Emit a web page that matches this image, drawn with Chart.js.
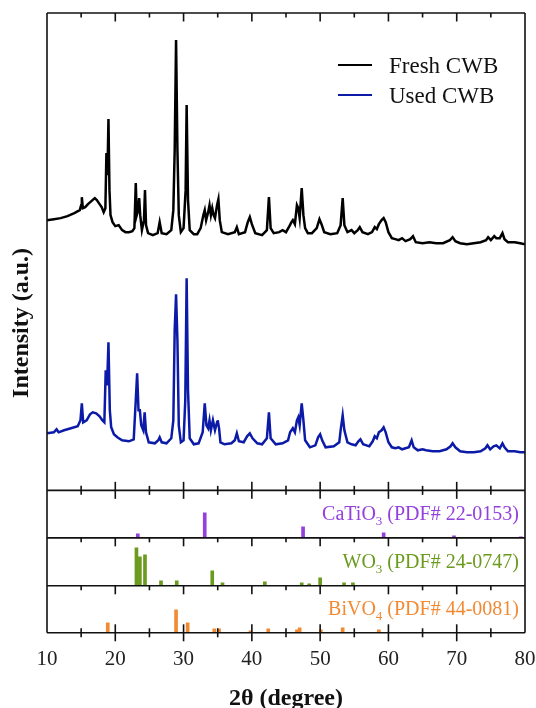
<!DOCTYPE html>
<html>
<head>
<meta charset="utf-8">
<script src="https://cdn.jsdelivr.net/npm/chart.js@4.4.1/dist/chart.umd.min.js"></script>
<style>
  html, body { margin: 0; padding: 0; background: #fff; }
  #wrap { width: 536px; height: 708px; }
</style>
</head>
<body>
<div id="wrap"><canvas id="xrdChart" width="536" height="708"></canvas></div>
<script>
// [2theta, intensity (a.u.)]
const freshPattern = [
  [10.0, 270], [11.0, 271], [12.0, 272], [13.0, 274], [14.0, 277], [14.8, 280], [15.0, 285], [15.1, 293],
  [15.25, 282], [15.6, 283], [16.0, 286], [16.5, 289], [17.0, 292], [17.3, 290], [17.6, 287], [18.0, 283],
  [18.3, 278], [18.55, 282], [18.7, 337], [18.85, 315], [19.0, 371], [19.15, 300], [19.3, 275], [19.6, 268],
  [20.0, 264], [20.5, 265], [21.0, 260], [21.5, 258], [22.0, 258], [22.5, 259], [22.8, 262], [23.0, 307],
  [23.15, 275], [23.35, 280], [23.5, 292], [23.65, 275], [23.9, 260], [24.2, 270], [24.35, 300], [24.5, 265],
  [24.8, 257], [25.5, 255], [26.2, 257], [26.5, 268], [26.8, 257], [27.5, 256], [28.2, 260], [28.5, 280],
  [28.7, 340], [28.9, 450], [29.1, 340], [29.3, 275], [29.6, 258], [30.0, 262], [30.3, 300], [30.45, 385],
  [30.65, 290], [30.9, 260], [31.5, 256], [32.0, 256], [32.5, 262], [32.9, 275], [33.1, 280], [33.3, 270],
  [33.6, 278], [33.8, 285], [34.0, 275], [34.2, 282], [34.4, 275], [34.6, 272], [34.9, 285], [35.1, 291],
  [35.3, 270], [35.6, 258], [36.5, 256], [37.5, 258], [37.8, 263], [38.1, 256], [39.0, 258], [39.4, 268],
  [39.7, 273], [40.0, 266], [40.5, 257], [41.5, 255], [42.2, 260], [42.5, 293], [42.75, 262], [43.2, 257],
  [44.0, 258], [44.5, 260], [45.0, 258], [45.5, 264], [45.8, 268], [46.0, 270], [46.3, 266], [46.6, 285],
  [46.8, 282], [47.0, 272], [47.3, 302], [47.55, 275], [47.8, 262], [48.2, 257], [48.8, 257], [49.5, 262],
  [49.9, 271], [50.2, 266], [50.6, 258], [51.5, 256], [52.5, 257], [53.0, 265], [53.3, 292], [53.55, 265],
  [54.0, 258], [54.6, 260], [55.0, 257], [55.5, 260], [55.8, 263], [56.2, 258], [57.0, 256], [57.6, 258],
  [58.0, 263], [58.3, 261], [58.6, 266], [59.0, 270], [59.3, 272], [59.6, 268], [60.0, 258], [60.5, 252],
  [61.0, 251], [61.5, 250], [62.0, 252], [62.5, 249], [63.2, 251], [63.6, 254], [64.0, 248], [65.0, 247],
  [66.0, 248], [67.0, 247], [68.0, 247], [69.0, 250], [69.4, 253], [69.8, 249], [70.5, 247], [71.5, 246],
  [72.5, 247], [73.5, 248], [74.3, 250], [74.6, 253], [75.0, 250], [75.5, 254], [75.8, 252], [76.3, 252],
  [76.7, 257], [77.0, 251], [77.5, 248], [78.5, 248], [79.3, 247], [80.0, 246]
];

const usedPattern = [
  [10.0, 57], [11.0, 58], [11.4, 61], [11.7, 58], [12.5, 60], [13.5, 62], [14.5, 64], [14.9, 70],
  [15.1, 87], [15.3, 68], [15.8, 70], [16.3, 76], [16.7, 78], [17.2, 77], [17.7, 74], [18.1, 70],
  [18.4, 68], [18.6, 120], [18.8, 105], [19.0, 148], [19.2, 80], [19.4, 63], [19.8, 56], [20.3, 53],
  [21.0, 50], [22.0, 49], [22.7, 51], [23.0, 90], [23.2, 117], [23.4, 80], [23.6, 80], [23.8, 65],
  [24.1, 60], [24.3, 78], [24.5, 58], [24.9, 48], [25.8, 47], [26.3, 50], [26.5, 53], [26.8, 48],
  [27.5, 47], [28.2, 52], [28.5, 70], [28.7, 160], [28.9, 196], [29.1, 150], [29.3, 65], [29.6, 48],
  [30.0, 50], [30.25, 90], [30.45, 212], [30.65, 100], [30.9, 52], [31.5, 46], [32.2, 47], [32.8, 58],
  [33.1, 87], [33.35, 65], [33.6, 62], [33.8, 70], [34.0, 60], [34.3, 70], [34.6, 60], [34.9, 68],
  [35.0, 70], [35.2, 62], [35.4, 48], [36.0, 46], [37.0, 47], [37.5, 50], [37.8, 57], [38.1, 49],
  [38.8, 48], [39.3, 54], [39.7, 57], [40.1, 52], [40.8, 47], [41.5, 46], [42.2, 52], [42.5, 78],
  [42.75, 52], [43.5, 46], [44.5, 47], [45.3, 50], [45.6, 58], [46.0, 62], [46.3, 58], [46.6, 70],
  [46.8, 73], [47.0, 65], [47.3, 87], [47.55, 70], [47.8, 50], [48.5, 43], [49.3, 45], [49.7, 53],
  [50.0, 56], [50.3, 50], [50.8, 43], [52.0, 44], [52.8, 48], [53.0, 60], [53.3, 75], [53.55, 60],
  [54.0, 48], [54.6, 46], [55.2, 45], [55.6, 49], [55.9, 51], [56.3, 46], [57.2, 44], [57.7, 49],
  [58.0, 54], [58.3, 52], [58.6, 58], [59.0, 60], [59.3, 63], [59.6, 58], [60.0, 48], [60.5, 43],
  [61.0, 42], [61.5, 43], [62.0, 41], [62.5, 42], [63.0, 43], [63.4, 50], [63.7, 43], [64.3, 40],
  [65.0, 41], [65.5, 40], [66.5, 39], [67.5, 39], [68.5, 41], [69.1, 44], [69.4, 47], [69.8, 43],
  [70.5, 39], [71.5, 38], [72.5, 38], [73.5, 39], [74.2, 42], [74.5, 45], [74.9, 41], [75.4, 44],
  [75.8, 45], [76.3, 42], [76.7, 47], [77.0, 43], [77.5, 39], [78.5, 39], [79.3, 38], [80.0, 38]
];

// standard reference cards: [2theta, relative intensity]
const caTiO3Lines = [[23.3, 4], [33.1, 25], [47.5, 11], [59.3, 5], [69.6, 2], [79.4, 1]];
const wo3Lines = [[23.1, 38], [23.6, 29], [24.35, 31], [26.7, 5], [29.0, 5], [34.2, 15], [35.7, 3],
  [41.9, 4], [47.3, 3], [48.4, 2], [50.0, 8], [53.5, 3], [54.8, 3]];
const biVO4Lines = [[18.9, 10], [28.9, 23], [30.6, 10], [34.5, 4], [35.2, 4], [39.8, 2], [42.4, 4],
  [46.6, 3], [47.0, 5], [50.1, 3], [53.3, 5], [58.6, 3]];

const seriesNames = ['Fresh CWB', 'Used CWB'];
const cardLabels = [
  ['CaTiO', '3', ' (PDF# 22-0153)'],
  ['WO', '3', ' (PDF# 24-0747)'],
  ['BiVO', '4', ' (PDF# 44-0081)']
];
const xTicks = [10, 20, 30, 40, 50, 60, 70, 80];

const SERIF = '"Liberation Serif", "Times New Roman", serif';
const cardColors = ['#9440dd', '#6b9b1e', '#f28a34'];

function toPoints(pairs) {
  return pairs.map(p => ({ x: p[0], y: p[1] }));
}

function panelAxis(max, weight) {
  return {
    type: 'linear',
    position: 'left',
    stack: 'xrd',
    stackWeight: weight,
    min: 0,
    max: max,
    grid: { display: false, drawTicks: false },
    border: { display: false },
    ticks: { display: false },
    afterFit: s => { s.width = 0; }
  };
}

function lineSet(label, pairs, color) {
  return {
    type: 'line', label: label, data: toPoints(pairs), yAxisID: 'yMain',
    borderColor: color, borderWidth: 2.5, pointRadius: 0, tension: 0, fill: false
  };
}

function barSet(label, pairs, color, axis) {
  return {
    type: 'bar', label: label, data: toPoints(pairs), yAxisID: axis,
    backgroundColor: color, barThickness: 3, grouped: false
  };
}

function drawLine(ctx, x1, y1, x2, y2) {
  ctx.beginPath();
  ctx.moveTo(x1, y1);
  ctx.lineTo(x2, y2);
  ctx.stroke();
}

const framePlugin = {
  id: 'frame',
  afterDraw(chart) {
    const ctx = chart.ctx;
    const xs = chart.scales.x;
    const area = chart.chartArea;
    const panels = ['yMain', 'yCa', 'yW', 'yBi'].map(id => chart.scales[id]);

    ctx.save();
    ctx.strokeStyle = '#111';
    ctx.lineWidth = 1.6;
    drawLine(ctx, area.left, area.top, area.left, area.bottom);
    drawLine(ctx, area.right, area.top, area.right, area.bottom);

    // horizontal axes with tick marks: [y, length up, length down]
    const rules = [
      [panels[0].top, 0, 1],
      [panels[1].top, 1, 1],
      [panels[2].top, 0, 1],
      [panels[3].top, 0, 1],
      [panels[3].bottom, 1, 1]
    ];
    rules.forEach(r => {
      drawLine(ctx, area.left, r[0], area.right, r[0]);
      for (let t = 15; t < 80; t += 5) {
        const px = xs.getPixelForValue(t);
        const len = t % 10 === 0 ? 8.5 : 4.5;
        drawLine(ctx, px, r[0] - len * r[1], px, r[0] + len * r[2]);
      }
    });

    // legend
    const legendColors = ['#000000', '#0c1aa8'];
    ctx.font = '23px ' + SERIF;
    ctx.textBaseline = 'alphabetic';
    ctx.textAlign = 'left';
    seriesNames.forEach((name, i) => {
      const y = area.top + 52 + i * 30;
      ctx.strokeStyle = legendColors[i];
      ctx.lineWidth = 2;
      drawLine(ctx, area.left + 291, y, area.left + 325, y);
      ctx.fillStyle = '#111';
      ctx.fillText(name, area.left + 342, y + 8);
    });

    // card labels with subscripts, right aligned
    cardLabels.forEach((parts, i) => {
      const p = panels[i + 1];
      const base = p.bottom - 18;
      const right = area.right - 6;
      ctx.fillStyle = cardColors[i];
      ctx.font = '20px ' + SERIF;
      const w0 = ctx.measureText(parts[0]).width;
      const w2 = ctx.measureText(parts[2]).width;
      ctx.font = '13px ' + SERIF;
      const w1 = ctx.measureText(parts[1]).width;
      let x = right - w0 - w1 - w2;
      ctx.font = '20px ' + SERIF;
      ctx.fillText(parts[0], x, base);
      ctx.font = '13px ' + SERIF;
      ctx.fillText(parts[1], x + w0, base + 5);
      ctx.font = '20px ' + SERIF;
      ctx.fillText(parts[2], x + w0 + w1, base);
    });

    // y title spanning the whole stack
    ctx.fillStyle = '#111';
    ctx.font = 'bold 24px ' + SERIF;
    ctx.textAlign = 'center';
    ctx.textBaseline = 'middle';
    ctx.translate(22, (area.top + area.bottom) / 2);
    ctx.rotate(-Math.PI / 2);
    ctx.fillText('Intensity (a.u.)', 0, 0);
    ctx.restore();
  }
};

new Chart(document.getElementById('xrdChart'), {
  type: 'line',
  data: {
    datasets: [
      lineSet(seriesNames[0], freshPattern, '#000000'),
      lineSet(seriesNames[1], usedPattern, '#0c1aa8'),
      barSet('CaTiO3', caTiO3Lines, cardColors[0], 'yCa'),
      barSet('WO3', wo3Lines, cardColors[1], 'yW'),
      barSet('BiVO4', biVO4Lines, cardColors[2], 'yBi')
    ]
  },
  options: {
    responsive: false,
    animation: false,
    devicePixelRatio: 1,
    layout: { padding: { left: 47, right: 11, top: 13, bottom: 0 } },
    plugins: { legend: { display: false }, tooltip: { enabled: false } },
    scales: {
      x: {
        type: 'linear',
        position: 'bottom',
        min: 10,
        max: 80,
        offset: false,
        grid: { display: false, drawTicks: false },
        border: { display: false },
        afterBuildTicks: s => { s.ticks = xTicks.map(v => ({ value: v })); },
        // the end labels fit inside the layout padding already
        afterFit: s => { s.paddingLeft = 0; s.paddingRight = 0; },
        ticks: {
          autoSkip: false,
          maxRotation: 0,
          padding: 14,
          color: '#222',
          font: { family: SERIF, size: 21 }
        },
        title: {
          display: true,
          text: '2θ (degree)',
          color: '#111',
          font: { family: SERIF, size: 24, weight: 'bold', lineHeight: 0.75 },
          padding: { top: 4, bottom: 0 }
        }
      },
      // stacked panels are laid out bottom-up from the order given here
      yBi: panelAxis(47, 47),
      yW: panelAxis(48, 48),
      yCa: panelAxis(47.5, 47.5),
      yMain: panelAxis(477, 477.5)
    }
  },
  plugins: [framePlugin]
});
</script>
</body>
</html>
